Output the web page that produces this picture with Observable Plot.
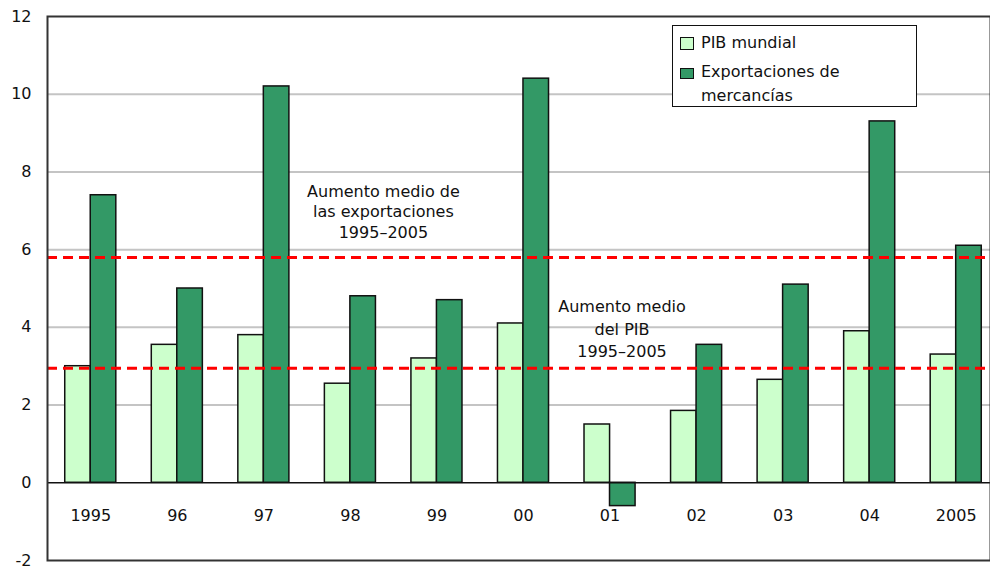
<!DOCTYPE html>
<html>
<head>
<meta charset="utf-8">
<script src="https://cdn.jsdelivr.net/npm/d3@7"></script>
<script src="https://cdn.jsdelivr.net/npm/@observablehq/plot@0.6"></script>
<style>
  html, body { margin: 0; padding: 0; background: #fff; }
  #wrap { position: relative; width: 990px; height: 566px; overflow: hidden; font-family: "DejaVu Sans", Verdana, sans-serif; }
  #legend { position: absolute; left: 672px; top: 25px; width: 243px; height: 80px; border: 1.5px solid #111; background: #fff; font-size: 16px; color: #111; }
  #legend .sw { position: absolute; left: 7px; border: 1.5px solid #111; box-sizing: border-box; }
  #legend .lb { position: absolute; left: 28px; line-height: 24px; white-space: nowrap; }
</style>
</head>
<body>
<div id="wrap"></div>
<script>
const years = ["1995","96","97","98","99","00","01","02","03","04","2005"];
const pib = [3.0, 3.55, 3.8, 2.55, 3.2, 4.1, 1.5, 1.85, 2.65, 3.9, 3.3];
const exportaciones = [7.4, 5.0, 10.2, 4.8, 4.7, 10.4, -0.6, 3.55, 5.1, 9.3, 6.1];
const yTicks = [-2, 0, 2, 4, 6, 8, 10, 12];
const gridTicks = [2, 4, 6, 8, 10];
const avgExport = 5.8;
const avgPib = 2.95;
const seriesNames = ["PIB mundial", "Exportaciones de\nmercancías"];
const colors = { pib: "#ccffcc", exp: "#339966" };

const data = years.map((y, i) => ({ year: y, pib: pib[i], exp: exportaciones[i] }));
const notes = [
  { year: "98", y: 7.0, text: "Aumento medio de\nlas exportaciones\n1995–2005", dx: 33, lh: 1.3 },
  { year: "01", y: 4.0, text: "Aumento medio\ndel PIB\n1995–2005", dx: 12, lh: 1.42 }
];

const font = '"DejaVu Sans", Verdana, sans-serif';

const chart = Plot.plot({
  width: 990,
  height: 566,
  marginLeft: 47,
  marginRight: 0,
  marginTop: 16,
  marginBottom: 6,
  style: { fontFamily: font, fontSize: "16px", color: "#111", background: "#fff", overflow: "hidden" },
  x: { domain: years, range: [47, 999], padding: 0.41, paddingOuter: 0.205, round: false, label: null },
  y: { domain: [-2, 12], label: null },
  marks: [
    Plot.ruleY(gridTicks, { stroke: "#c4c4c4", strokeWidth: 2 }),
    Plot.barY(data, { x: "year", y: "pib", fill: colors.pib, stroke: "#111", strokeWidth: 1.5, insetRight: 25.5 }),
    Plot.barY(data, { x: "year", y: "exp", fill: colors.exp, stroke: "#111", strokeWidth: 1.5, insetLeft: 25.5 }),
    Plot.ruleY([0], { stroke: "#111", strokeWidth: 1.5 }),
    Plot.ruleY([avgExport, avgPib], { stroke: "#ff0000", strokeWidth: 3, strokeDasharray: "10,6" }),
    Plot.frame({ stroke: "#333", strokeWidth: 2 }),
    Plot.axisY({ ticks: yTicks, tickSize: 0, tickPadding: 16, fontSize: 16, label: null, tickFormat: d => String(d) }),
    Plot.axisX({ tickSize: 0, dy: -60, fontSize: 16, label: null }),
    ...notes.map(n => Plot.text([n], { x: "year", y: "y", text: "text", dx: n.dx, lineHeight: n.lh, fontSize: 16, fill: "#111", letterSpacing: 0.5 }))
  ]
});

const wrap = document.getElementById("wrap");
wrap.appendChild(chart);

const legend = document.createElement("div");
legend.id = "legend";
legend.innerHTML =
  `<div class="sw" style="top:11px;width:14px;height:13px;background:${colors.pib}"></div>` +
  `<div class="lb" style="top:5px">${seriesNames[0]}</div>` +
  `<div class="sw" style="top:42px;width:14px;height:11px;background:${colors.exp}"></div>` +
  `<div class="lb" style="top:34px">${seriesNames[1].replace("\n", "<br>")}</div>`;
wrap.appendChild(legend);
</script>
</body>
</html>
